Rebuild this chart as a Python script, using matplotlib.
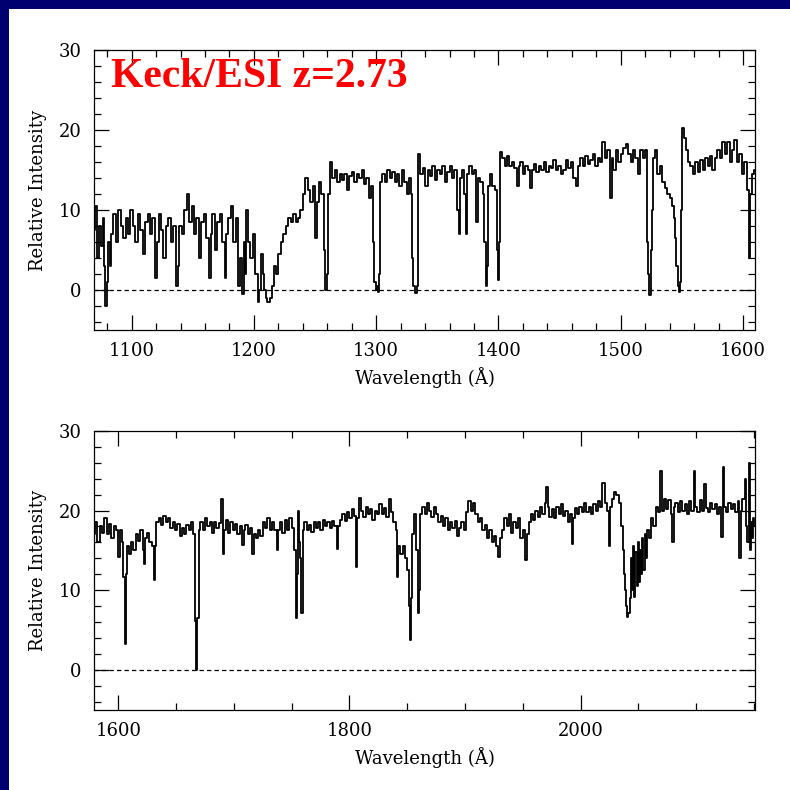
import matplotlib
matplotlib.use("Agg")
import matplotlib.pyplot as plt
from matplotlib.ticker import MultipleLocator
from matplotlib.patches import Rectangle

# upper panel spectrum (wavelength in Angstrom, relative intensity)
wave_top = [
    1069, 1071, 1073, 1074, 1076, 1077, 1078, 1079, 1080, 1081, 1083, 1084, 1086, 1088, 1090, 1092,
    1094, 1096, 1098, 1100, 1102, 1104, 1106, 1108, 1110, 1112, 1114, 1116, 1118, 1120, 1121, 1123,
    1125, 1127, 1129, 1131, 1133, 1135, 1137, 1138, 1140, 1142, 1144, 1146, 1148, 1150, 1152, 1154,
    1156, 1158, 1160, 1162, 1164, 1165, 1167, 1169, 1171, 1173, 1175, 1177, 1178, 1180, 1182, 1184,
    1186, 1188, 1189, 1191, 1192, 1193, 1194, 1196, 1198, 1200, 1202, 1204, 1205, 1207, 1208, 1209,
    1210, 1212, 1214, 1216, 1217, 1219, 1221, 1223, 1225, 1227, 1229, 1231, 1233, 1235, 1237, 1239,
    1241, 1243, 1245, 1247, 1249, 1251, 1252, 1254, 1256, 1258, 1259, 1260, 1261, 1263, 1265, 1267,
    1269, 1271, 1273, 1275, 1277, 1279, 1281, 1283, 1285, 1287, 1289, 1291, 1293, 1295, 1296, 1298,
    1299, 1300, 1301, 1302, 1303, 1304, 1306, 1308, 1310, 1312, 1314, 1316, 1318, 1320, 1322, 1324,
    1326, 1328, 1329, 1330, 1331, 1333, 1334, 1335, 1337, 1339, 1341, 1343, 1345, 1347, 1349, 1351,
    1353, 1355, 1357, 1359, 1361, 1363, 1365, 1367, 1368, 1369, 1371, 1373, 1374, 1375, 1377, 1379,
    1381, 1383, 1384, 1386, 1388, 1389, 1390, 1391, 1392, 1394, 1396, 1398, 1399, 1400, 1401, 1402,
    1404, 1406, 1408, 1410, 1412, 1414, 1416, 1417, 1419, 1421, 1423, 1425, 1427, 1428, 1430, 1432,
    1434, 1436, 1438, 1440, 1442, 1444, 1446, 1448, 1450, 1452, 1454, 1456, 1458, 1460, 1462, 1464,
    1466, 1468, 1470, 1472, 1474, 1476, 1478, 1480, 1482, 1484, 1486, 1488, 1490, 1492, 1493, 1495,
    1497, 1499, 1501, 1503, 1505, 1507, 1509, 1511, 1513, 1515, 1517, 1519, 1521, 1522, 1523, 1524,
    1525, 1526, 1527, 1529, 1531, 1533, 1535, 1537, 1539, 1541, 1543, 1544, 1545, 1546, 1547, 1548,
    1549, 1550, 1551, 1552, 1554, 1556, 1558, 1560, 1562, 1564, 1566, 1568, 1570, 1572, 1574, 1576,
    1578, 1580, 1582, 1584, 1586, 1588, 1590, 1592, 1594, 1596, 1598, 1600, 1602, 1604, 1605, 1606,
    1608, 1610,
]
flux_top = [
    7.5, 10.5, 4, 8, 5.5, 9, 3, -2, 1, 6, 3, 7, 9.5, 6, 10, 8,
    6.5, 9, 7, 10, 8, 6, 9.5, 7.5, 4.5, 8.5, 9.5, 7, 9, 1.5, 6, 9.5,
    7.5, 4, 8, 9, 6, 8, 0.5, 3, 8, 7, 10, 12, 8.5, 10.5, 7, 9,
    4, 8.5, 9.5, 6.5, 1.5, 7, 9.5, 5, 8.5, 9.5, 6, 1.5, 7, 9, 10.5, 6,
    9, 0.5, 4, -0.5, 6, 2, 10, 6, 4, 7, 2, -1.5, 0, 4.5, 2, 0,
    -1, -1.5, -1, 0.5, 3, 2, 4.5, 6, 7, 8, 9, 8.5, 9.5, 8.5, 9, 10,
    12, 14, 12.5, 11, 13, 6.5, 11, 13.5, 12, 5, 0, 2, 12, 16, 14, 15,
    13.5, 14.5, 13.8, 14.5, 12.5, 14.2, 14.8, 13.5, 14.5, 14, 15, 13.2, 14, 11.5, 13, 6,
    1, 0, 0.5, -0.3, 2, 13.5, 14.5, 13.5, 15, 14, 14.8, 13.5, 14.5, 13, 15, 13.5,
    12, 14, 12, 4, 0.5, -0.4, 0.5, 17, 14.5, 15.2, 13, 15, 14.2, 15.5, 13.8, 15,
    14.5, 15.5, 13.5, 14.8, 15.5, 14, 15, 10, 7, 14, 15, 12, 7, 14.5, 15.5, 14.5,
    15, 8.5, 14, 13.5, 12, 6, 0.5, 3, 13, 14.5, 13, 12.5, 5, 1.2, 6, 17.3,
    16.5, 15.5, 16.8, 15.5, 16, 15.2, 13, 15.5, 16, 14.5, 15.5, 15, 12.8, 15, 15.8, 14.8,
    15.5, 15, 16, 14.8, 15.5, 15.2, 16.2, 15, 15.5, 14.5, 15, 16.3, 15.2, 16, 14, 13,
    15.5, 16.5, 15.5, 16.8, 15.8, 16.2, 17, 15.5, 16.5, 16, 18.5, 16.5, 17.5, 11.5, 16.5, 15,
    17.5, 16, 17, 17.8, 18.3, 17, 16, 17.5, 16.5, 14.5, 17.5, 16.5, 17.5, 6, 2, -0.6,
    5, 10, 16.5, 17.5, 14.5, 15.5, 13.5, 12.8, 12, 11.5, 10.5, 9, 6.5, 3, 0.5, -0.3,
    1, 10, 20.2, 19, 17.5, 16, 15.5, 14.5, 16, 14.8, 16.2, 15, 16.5, 15.5, 16.8, 15,
    16.5, 17.5, 16.5, 18.5, 17, 18.5, 16, 17.5, 18.8, 16, 17, 14.5, 16, 12.5, 4, 12,
    14.5, 15,
]

# lower panel spectrum
wave_bot = [
    1579, 1581, 1583, 1585, 1587, 1589, 1591, 1593, 1595, 1597, 1599, 1601, 1602, 1604, 1605, 1606,
    1607, 1608, 1610, 1612, 1614, 1616, 1618, 1620, 1622, 1623, 1624, 1626, 1628, 1630, 1631, 1632,
    1634, 1636, 1638, 1640, 1642, 1644, 1646, 1648, 1650, 1652, 1654, 1656, 1658, 1660, 1662, 1664,
    1666, 1667, 1668, 1669, 1670, 1672, 1674, 1676, 1678, 1680, 1682, 1684, 1686, 1688, 1690, 1691,
    1692, 1694, 1696, 1698, 1700, 1702, 1704, 1706, 1708, 1709, 1711, 1713, 1715, 1717, 1718, 1720,
    1722, 1724, 1726, 1728, 1730, 1732, 1734, 1736, 1738, 1739, 1741, 1743, 1745, 1747, 1749, 1751,
    1753, 1754, 1755, 1756, 1757, 1758, 1759, 1760, 1762, 1764, 1766, 1768, 1770, 1772, 1774, 1776,
    1778, 1780, 1782, 1784, 1786, 1788, 1790, 1791, 1793, 1795, 1797, 1799, 1801, 1803, 1805, 1806,
    1807, 1809, 1811, 1813, 1815, 1817, 1819, 1821, 1823, 1825, 1827, 1829, 1831, 1833, 1835, 1837,
    1839, 1841, 1842, 1843, 1845, 1847, 1849, 1851, 1852, 1853, 1854, 1855, 1857, 1859, 1860, 1861,
    1862, 1864, 1866, 1868, 1870, 1872, 1874, 1876, 1878, 1880, 1882, 1884, 1886, 1888, 1890, 1892,
    1894, 1896, 1898, 1900, 1902, 1904, 1906, 1908, 1910, 1912, 1914, 1916, 1918, 1920, 1922, 1924,
    1926, 1928, 1930, 1931, 1933, 1935, 1937, 1939, 1941, 1943, 1945, 1947, 1949, 1951, 1953, 1954,
    1956, 1958, 1960, 1962, 1964, 1966, 1968, 1970, 1971, 1972, 1974, 1976, 1978, 1980, 1982, 1984,
    1986, 1988, 1990, 1992, 1993, 1994, 1996, 1998, 2000, 2002, 2004, 2006, 2008, 2010, 2012, 2014,
    2016, 2018, 2020, 2022, 2024, 2025, 2026, 2028, 2030, 2032, 2034, 2036, 2037, 2038, 2039, 2040,
    2041, 2042, 2043, 2044, 2045, 2046, 2047, 2048, 2049, 2050, 2051, 2052, 2053, 2054, 2055, 2056,
    2057, 2058, 2060, 2062, 2064, 2066, 2068, 2070, 2071, 2073, 2075, 2077, 2079, 2080, 2081, 2083,
    2085, 2087, 2089, 2091, 2093, 2095, 2097, 2099, 2100, 2102, 2104, 2106, 2108, 2109, 2111, 2113,
    2115, 2117, 2119, 2121, 2123, 2124, 2125, 2127, 2129, 2131, 2133, 2135, 2137, 2138, 2139, 2141,
    2143, 2144, 2145, 2146, 2147, 2148, 2149, 2150, 2151,
]
flux_bot = [
    17, 18.5, 16, 18, 17.2, 19, 17, 18.3, 16.5, 18, 17.5, 14.2, 17.5, 16, 11.7, 3.3,
    12, 15.5, 14.5, 16, 15, 17, 16.2, 17.5, 15, 13.3, 16.5, 17.2, 16, 15.5, 11.3, 15.5,
    18.5, 19, 18.2, 19.3, 18.5, 19, 17.8, 18.5, 17.5, 18.3, 16.8, 17.8, 17, 18.2, 17.5, 18.5,
    17, 6.2, 0, 6.5, 17.5, 18.5, 17.5, 19, 18, 18.6, 17.2, 18.5, 17.8, 18.4, 21.5, 14.6,
    17.5, 18.8, 17.2, 18.5, 17.5, 18.3, 17, 18, 15.7, 17.5, 18.2, 17, 17.8, 14.6, 17, 16.5,
    17.5, 16.8, 18.5, 17.8, 19, 17.5, 18.5, 17.5, 15, 17.5, 18.5, 17.2, 18.8, 17.5, 19, 17.8,
    15, 6.5, 12, 20, 16, 14, 7.1, 17.5, 18.5, 17.5, 18.2, 17.3, 18.5, 17.8, 18.5, 17.5,
    18.8, 18, 18.6, 17.8, 18.7, 18, 15.2, 18, 18.8, 19.5, 18.7, 19.8, 19, 20.2, 19.3, 12.9,
    19, 21.6, 20, 19.2, 20.5, 19.5, 20.2, 18.8, 20, 19.5, 20.8, 19.6, 20.3, 19.2, 21.4, 19.8,
    18.5, 17.5, 11.7, 15.5, 14.5, 15.5, 14, 12.5, 8, 3.8, 9, 17, 19.5, 15, 7.1, 10,
    19.5, 20.5, 19.5, 21, 20, 19.2, 20.5, 19.5, 18.5, 19.3, 18, 19, 17.5, 18.5, 17.8, 18.7,
    16.8, 17.8, 18.5, 17.5, 19.8, 21.2, 20, 21, 19.5, 18.5, 19, 17.5, 18.2, 16.5, 17.5, 16,
    16.8, 15.5, 14.2, 16.5, 17.5, 19, 18, 19.5, 17.2, 18.5, 17.8, 19, 16.5, 17.5, 13.8, 17,
    18.5, 19.5, 18.8, 20, 19.2, 20.5, 19.5, 21, 23, 20.5, 19.2, 20.2, 19, 20.5, 19.5, 20.8,
    19.3, 20, 18.5, 19.5, 15.8, 19, 20.3, 19.5, 20.5, 19.8, 21, 19.8, 20.5, 19.6, 20.8, 20,
    21.2, 20.5, 23.5, 21, 20, 15.6, 20.5, 21.5, 22.3, 22, 21, 18, 15, 12, 10, 8,
    6.6, 7.2, 9, 14, 10, 15.5, 9.2, 14.8, 10.5, 16, 11, 15, 12, 16.5, 12.5, 17,
    14, 17.5, 16.5, 19, 18, 20.5, 19.8, 25, 20, 21.5, 20.2, 21.3, 19.5, 16, 20.5, 21,
    19.8, 21.2, 20, 20.8, 19.6, 21.2, 20, 24.9, 20.5, 19.8, 21.3, 20, 23.3, 20.3, 19.8, 21,
    20.2, 20.8, 19.5, 20.5, 16.7, 25.4, 20.5, 19.8, 21, 20.2, 20.8, 19.8, 21.2, 14, 20, 21.5,
    24, 18, 16, 26, 15, 18.5, 16.5, 19, 18,
]

title = "Keck/ESI z=2.73"

fig = plt.figure(figsize=(7.9, 7.9), dpi=100, facecolor="white")

# navy frame strips on top and left edge
fig.patches.append(Rectangle((0, 1 - 9 / 790), 1, 9 / 790, transform=fig.transFigure,
                             facecolor="#000070", edgecolor="none", zorder=0))
fig.patches.append(Rectangle((0, 0), 9 / 790, 1, transform=fig.transFigure,
                             facecolor="#000070", edgecolor="none", zorder=0))

ax1 = fig.add_axes([94 / 790, 1 - 330 / 790, 661 / 790, 280 / 790])
ax2 = fig.add_axes([94 / 790, 1 - 710 / 790, 661 / 790, 279.3 / 790])

panels = [
    (ax1, wave_top, flux_top, (1069.2, 1609.8), 100, 20),
    (ax2, wave_bot, flux_bot, (1579, 2151), 200, 50),
]

for ax, w, f, xlim, major, minor in panels:
    ax.plot(w, f, color="black", lw=1.3, drawstyle="steps-mid")
    ax.axhline(0, color="black", lw=0.9, ls=(0, (3.5, 2.5)))
    ax.set_xlim(*xlim)
    ax.set_ylim(-5, 30)
    ax.xaxis.set_major_locator(MultipleLocator(major))
    ax.xaxis.set_minor_locator(MultipleLocator(minor))
    ax.yaxis.set_major_locator(MultipleLocator(10))
    ax.yaxis.set_minor_locator(MultipleLocator(2))
    ax.tick_params(which="both", direction="in", top=True, right=True, width=0.9, color="black")
    ax.tick_params(which="major", length=10.5, pad=9, labelsize=13)
    ax.tick_params(which="minor", length=5)
    for lab in ax.get_xticklabels() + ax.get_yticklabels():
        lab.set_family("DejaVu Serif")
    for sp in ax.spines.values():
        sp.set_linewidth(0.9)
    ax.set_xlabel("Wavelength (Å)", family="DejaVu Serif", fontsize=13, labelpad=5)
    ax.set_ylabel("Relative Intensity", family="DejaVu Serif", fontsize=13, labelpad=8)

fig.text(111 / 790, 1 - 87 / 790, title, color="red", fontsize=30, fontweight="bold",
         family="Liberation Serif", va="baseline", ha="left")

fig.savefig("out.png", dpi=100, facecolor="white")
